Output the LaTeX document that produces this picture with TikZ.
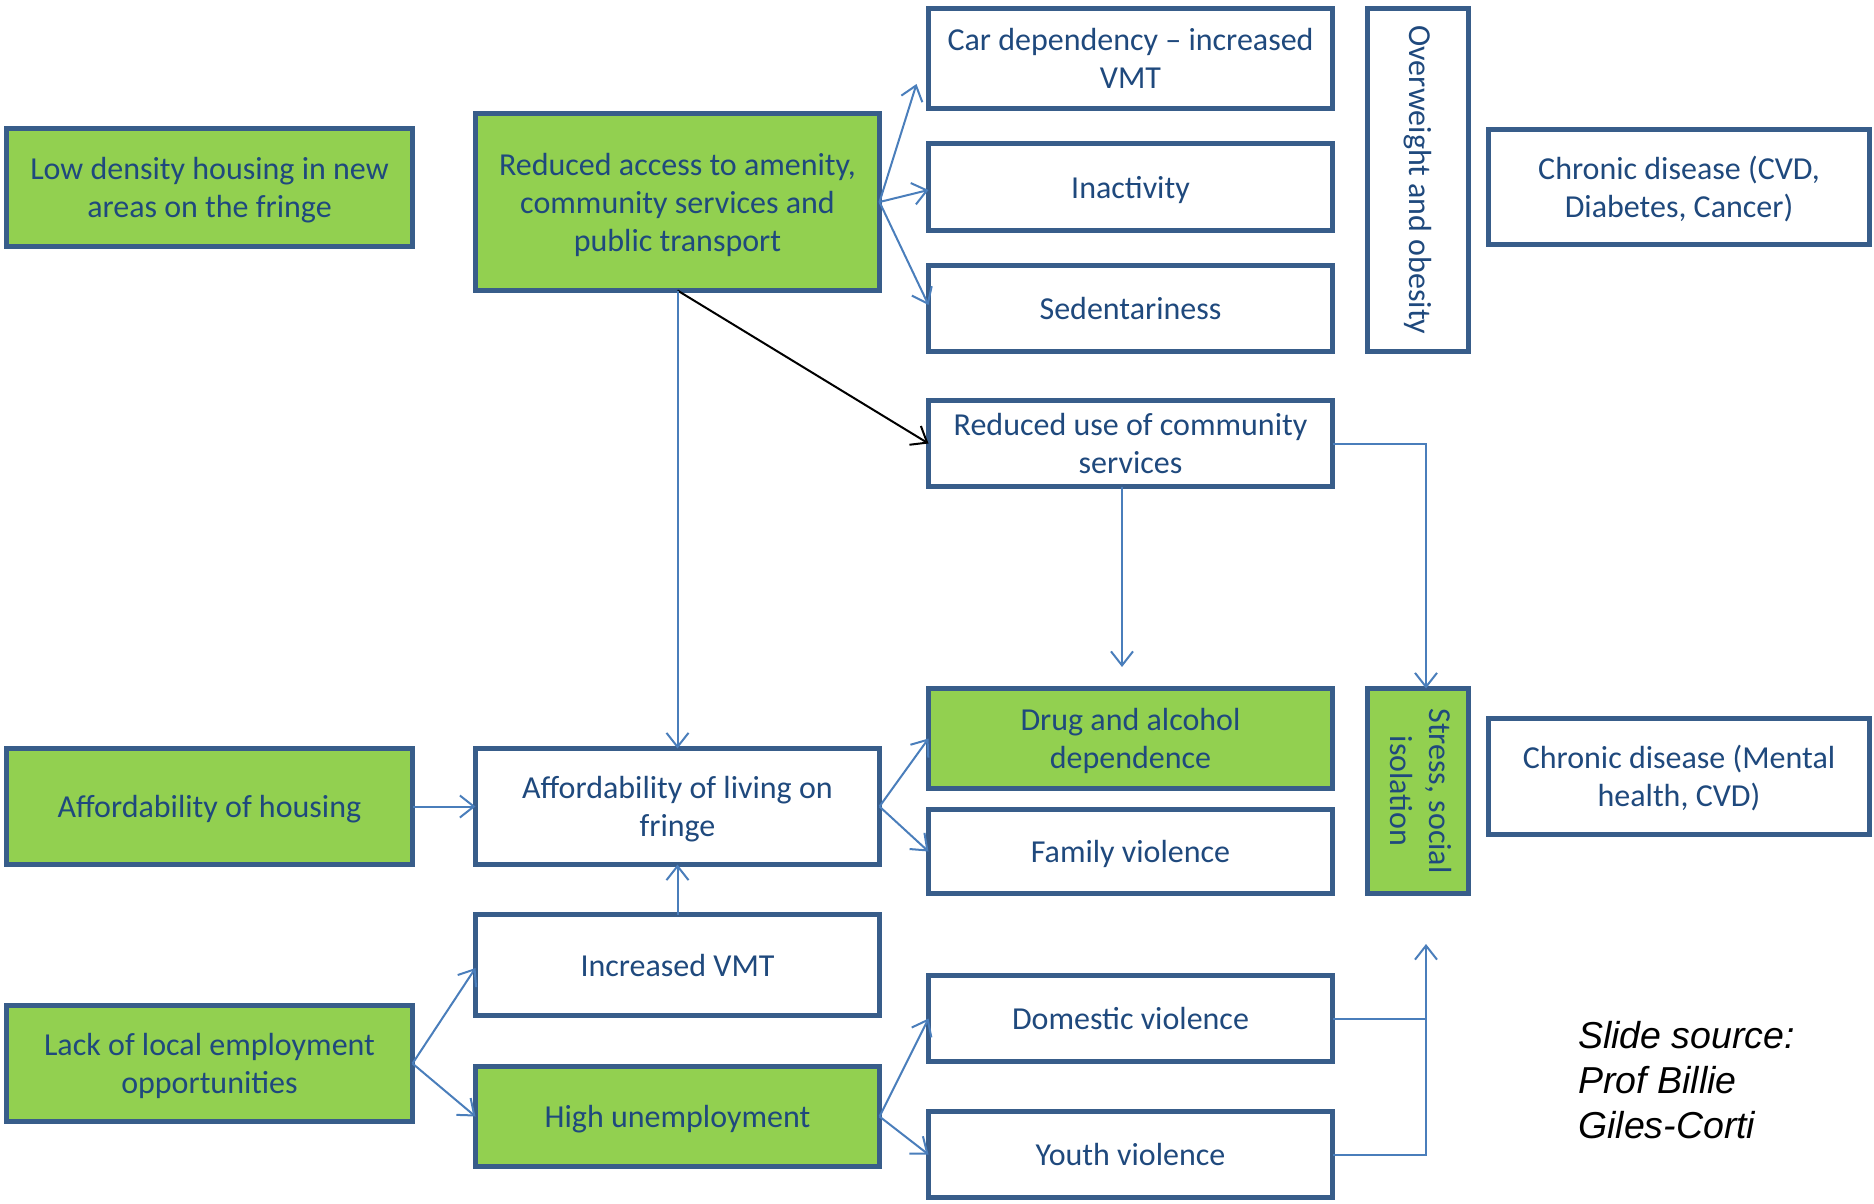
\documentclass[tikz,border=0pt]{standalone}
\usepackage{fontspec}
\setmainfont{Carlito}
\newfontfamily\srcfont{Liberation Sans}
\usetikzlibrary{arrows.meta}
\definecolor{boxgreen}{HTML}{92D050}
\definecolor{boxborder}{HTML}{385D8A}
\definecolor{txtblue}{HTML}{1F497D}
\definecolor{arrblue}{HTML}{4A7EBB}
\newcommand\strtop{\rule{0pt}{32pt}}
\newcommand\strbot{\rule[-10pt]{0pt}{0pt}}
\begin{document}
\begin{tikzpicture}[x=1pt,y=-1pt,
  box/.style={draw=boxborder, line width=4.5pt, fill=white, text=txtblue, align=center,
    inner sep=0pt, outer sep=0pt, font=\fontsize{32}{38}\selectfont},
  gbox/.style={box, fill=boxgreen},
  arr/.style={draw=arrblue, line width=2pt, -{Straight Barb[length=14pt,width=22pt,line width=2pt]}},
  barr/.style={draw=black, line width=2pt, -{Straight Barb[length=14pt,width=22pt,line width=2pt]}},
  ln/.style={draw=arrblue, line width=2pt},
]
\useasboundingbox (0,0) rectangle (1874,1204);

% column A
\node[gbox, minimum width=406pt, minimum height=118pt] (low) at (209.5,187.5) {\strtop Low density housing in new\\areas on the fringe\strbot};
\node[gbox, minimum width=406pt, minimum height=116pt] (ah) at (209.5,806.5) {\strtop Affordability of housing\strbot};
\node[gbox, minimum width=406pt, minimum height=116pt] (lack) at (209.5,1063.5) {\strtop Lack of local employment\\opportunities\strbot};

% column B
\node[gbox, minimum width=404pt, minimum height=177pt] (ra) at (677.5,202) {\strtop Reduced access to amenity,\\community services and\\public transport\strbot};
\node[box, minimum width=404pt, minimum height=116pt] (al) at (677.5,806.5) {\strtop Affordability of living on\\fringe\strbot};
\node[box, minimum width=404pt, minimum height=101pt] (iv) at (677.5,965) {\strtop Increased VMT\strbot};
\node[gbox, minimum width=404pt, minimum height=100pt] (hu) at (677.5,1116.5) {\strtop High unemployment\strbot};

% column C
\node[box, minimum width=404pt, minimum height=100pt] (car) at (1130.5,58.5) {\strtop Car dependency -- increased\\VMT\strbot};
\node[box, minimum width=404pt, minimum height=87pt] (ina) at (1130.5,187) {\strtop Inactivity\strbot};
\node[box, minimum width=404pt, minimum height=86pt] (sed) at (1130.5,308.5) {\strtop Sedentariness\strbot};
\node[box, minimum width=404pt, minimum height=86pt] (ru) at (1130.5,443.5) {\strtop Reduced use of community\\services\strbot};
\node[gbox, minimum width=404pt, minimum height=100pt] (drug) at (1130.5,738.5) {\strtop Drug and alcohol\\dependence\strbot};
\node[box, minimum width=404pt, minimum height=84pt] (fam) at (1130.5,851.5) {\strtop Family violence\strbot};
\node[box, minimum width=404pt, minimum height=86pt] (dom) at (1130.5,1018.5) {\strtop Domestic violence\strbot};
\node[box, minimum width=404pt, minimum height=86pt] (youth) at (1130.5,1154.5) {\strtop Youth violence\strbot};

% column D
\node[box, minimum width=101pt, minimum height=343pt] (ow) at (1418,180) {\rotatebox{-90}{Overweight and obesity}};
\node[gbox, minimum width=101pt, minimum height=205pt] (st) at (1418,791) {\rotatebox{-90}{\begin{tabular}{@{}c@{}}Stress, social\\[1pt]isolation\end{tabular}}};

% column E
\node[box, minimum width=381pt, minimum height=115pt] (ch1) at (1679,187) {\strtop Chronic disease (CVD,\\Diabetes, Cancer)\strbot};
\node[box, minimum width=381pt, minimum height=116pt] (ch2) at (1679,776.5) {\strtop Chronic disease (Mental\\health, CVD)\strbot};

% source
\node[anchor=north west, align=left, inner sep=0pt, font=\srcfont\itshape\fontsize{37.5}{45}\selectfont] (src) at (1578,1021) {Slide source:\\Prof Billie\\Giles-Corti};

% connectors
\draw[arr] (ra.east) -- ([xshift=-12pt]car.west |- 0,84);
\draw[arr] (ra.east) -- (ina.west |- 0,190);
\draw[arr] (ra.east) -- (sed.west |- 0,305);
\draw[barr] (ra.south) -- (ru.west);
\draw[arr] (ra.south) -- (al.north);
\coordinate (rub) at (1122,667);
\draw[arr] (ru.south -| rub) -- (rub);
\coordinate (sx) at (1426,0);
\draw[arr] (ru.east) -- (ru.east -| sx) -- (st.north -| sx);
\draw[arr] (ah.east) -- (al.west);
\draw[arr] (iv.north) -- (al.south);
\draw[arr] (lack.east) -- (iv.west |- 0,968);
\draw[arr] (lack.east) -- (hu.west);
\draw[arr] (al.east) -- (drug.west);
\draw[arr] (al.east) -- (fam.west);
\draw[arr] (hu.east) -- (dom.west);
\draw[arr] (hu.east) -- (youth.west);
\coordinate (vtop) at (1426,944);
\draw[ln] (dom.east) -- (dom.east -| vtop);
\draw[arr] (youth.east) -- (youth.east -| vtop) -- (vtop);
\end{tikzpicture}
\end{document}
